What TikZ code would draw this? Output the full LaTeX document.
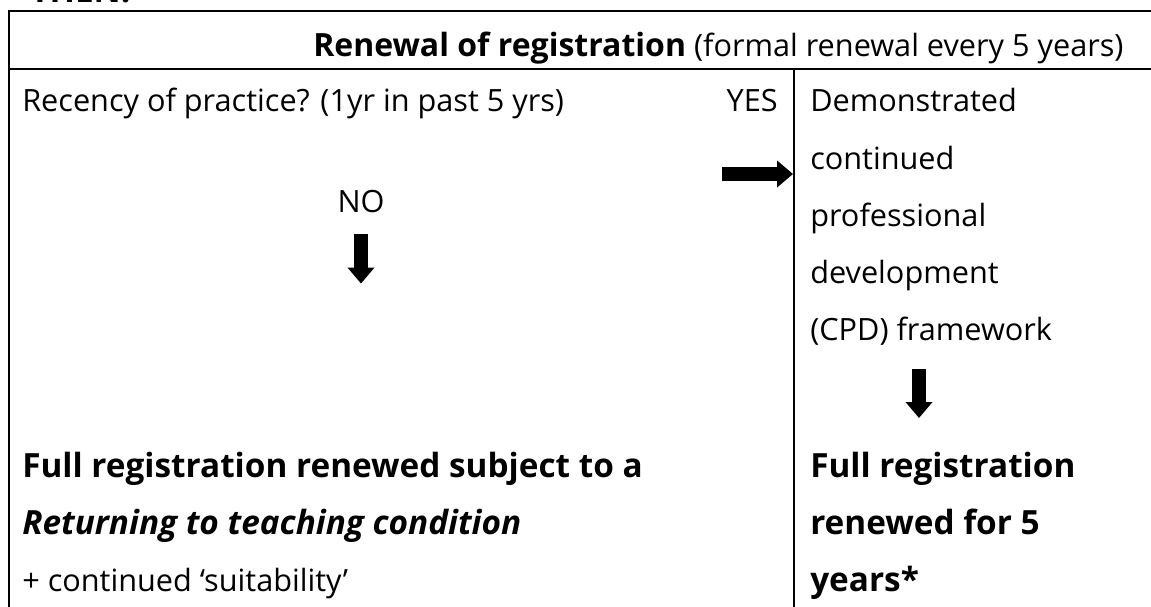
\documentclass[tikz,border=0pt]{standalone}
\usepackage{fontspec}
\setmainfont{Open Sans}
\usetikzlibrary{arrows.meta,positioning}

\tikzset{
  rule/.style={line width=1.6pt},
  txt/.style={inner sep=0pt,anchor=base west,font=\fontsize{23}{27}\selectfont},
  big/.style={txt,font=\fontsize{25}{30}\selectfont\bfseries},
  nextline/.style={below=42.75pt of #1,anchor=base west},
  blockarrow/.style={line width=10.5pt,-{Triangle[length=12pt,width=19.5pt]}}
}

\begin{document}
\begin{tikzpicture}[x=0.75pt,y=-0.75pt]
\useasboundingbox (0,0) rectangle (1151,606);
\clip (0,0) rectangle (1151,606);

% table
\draw[rule] (9,11) rectangle (1440,640);
\draw[rule] (9,69) -- (1440,69);
\draw[rule] (794,69) -- (794,640);

% heading
\node[big] (then) at (30,3) {THEN:};
\node[txt] (title) at (313,57) {{\fontsize{24}{28}\selectfont\bfseries Renewal of registration} (formal renewal every 5 years)};

% left cell
\node[txt] (recency) at (22,112) {Recency of practice? (1yr in past 5 yrs)};
\node[txt,anchor=base east] (yes) at (778,112) {YES};
\node[txt,anchor=base] (no) at (361,212) {NO};
\node[big] (sub1) at (22,477) {Full registration renewed subject to a};
\node[big,nextline=sub1.base west] (sub2) {\itshape Returning to teaching condition};
\node[txt,nextline=sub2.base west] (sub3) {+ continued `suitability'};

% right cell
\node[txt] (cpd1) at (810,112) {Demonstrated};
\node[txt,nextline=cpd1.base west] (cpd2) {continued};
\node[txt,nextline=cpd2.base west] (cpd3) {professional};
\node[txt,nextline=cpd3.base west] (cpd4) {development};
\node[txt,nextline=cpd4.base west] (cpd5) {(CPD) framework};
\node[big] (full1) at (810,477) {Full registration};
\node[big,nextline=full1.base west] (full2) {renewed for 5};
\node[big,nextline=full2.base west] (full3) {years*};

% arrows
\coordinate (yesFrom) at (722,174);
\coordinate (yesTo) at (793,174);
\coordinate (cpdFrom) at (919,369);
\coordinate (cpdTo) at (919,418);
\draw[blockarrow] ([yshift=-15.75pt]no.south) -- ++(0,50);
\draw[blockarrow] (yesFrom) -- (yesTo);
\draw[blockarrow] (cpdFrom) -- (cpdTo);
\end{tikzpicture}
\end{document}
